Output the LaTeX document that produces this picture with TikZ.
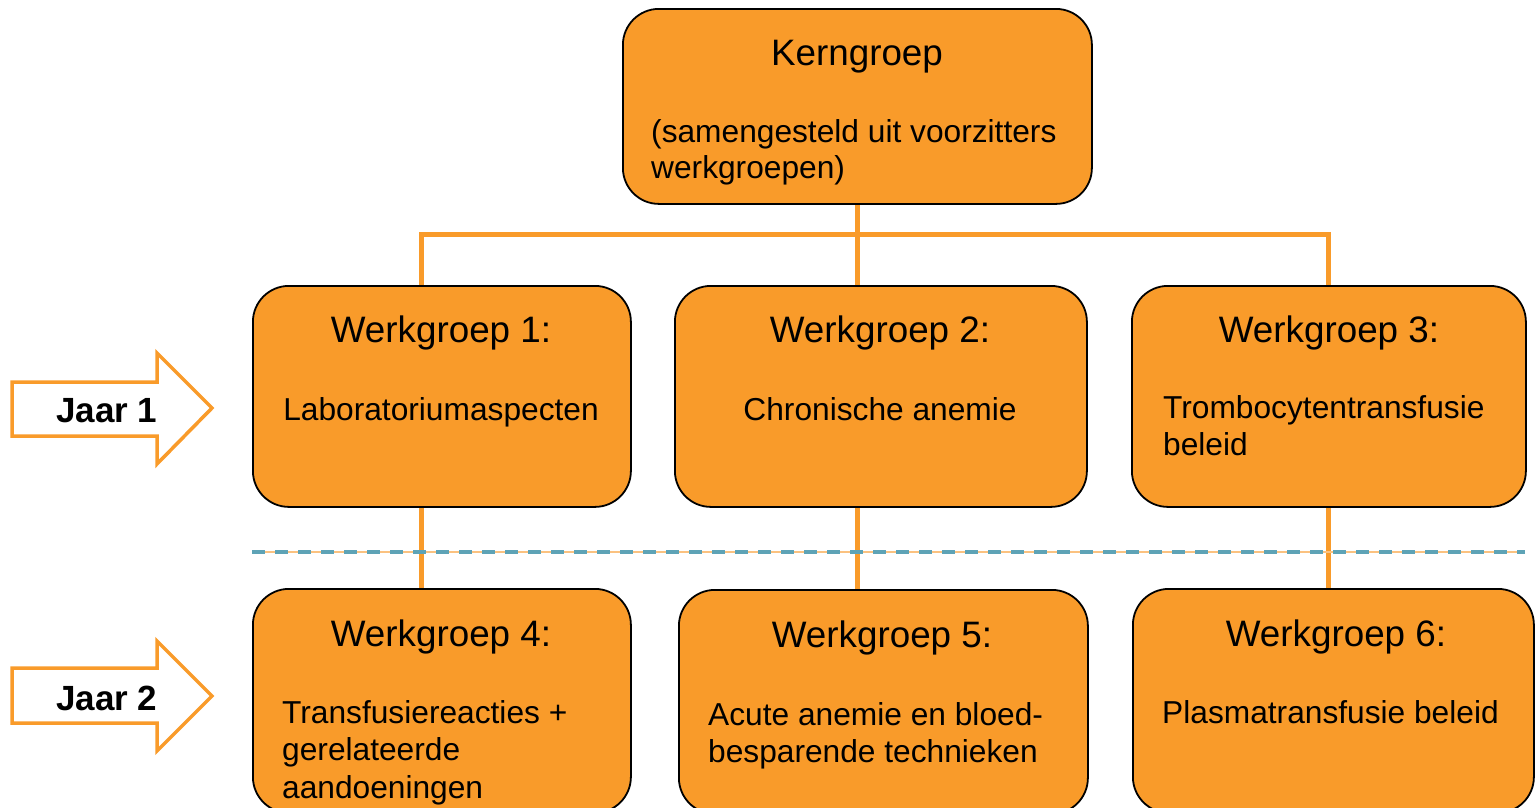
\documentclass[tikz,border=0pt]{standalone}
\usepackage{fontspec}
\setmainfont{Liberation Sans}
\pgfdeclarelayer{background}
\pgfsetlayers{background,main}
\definecolor{orfill}{HTML}{F99B2A}
\definecolor{orline}{HTML}{F99B2A}
\definecolor{orlight}{HTML}{FBC280}
\definecolor{tealdash}{HTML}{5EA3B6}
\tikzset{
  box/.style={draw=black, line width=1.8pt, fill=orfill, rounded corners=36pt,
    inner sep=0pt, anchor=north west},
  conn/.style={draw=orline, line width=5pt},
  hd/.style={font=\fontsize{36.8}{44}\selectfont, inner sep=0pt, anchor=base},
  bdc/.style={font=\fontsize{31.7}{37}\selectfont, inner sep=0pt, anchor=base},
  bdl/.style={font=\fontsize{31.7}{37}\selectfont, inner sep=0pt, anchor=base west},
  jaar/.style={font=\bfseries\fontsize{35}{40}\selectfont, inner sep=0pt, anchor=base west},
  blockarrow/.style={draw=orline, line width=3.5pt, fill=white, line join=miter},
}
\begin{document}
\begin{tikzpicture}[x=1pt,y=-1pt]
\useasboundingbox (0,0) rectangle (1535,807);
\clip (0,0) rectangle (1535,807);

% boxes
\node[box, minimum width=469pt, minimum height=195pt] (k) at (622,8) {};
\node[box, minimum width=378pt, minimum height=221pt] (w1) at (252,285) {};
\node[box, minimum width=412pt, minimum height=221pt] (w2) at (674,285) {};
\node[box, minimum width=394pt, minimum height=221pt] (w3) at (1131,285) {};
\node[box, minimum width=378pt, minimum height=224pt] (w4) at (252,588) {};
\node[box, minimum width=409pt, minimum height=224pt] (w5) at (678,589) {};
\node[box, minimum width=401pt, minimum height=224pt] (w6) at (1132,588) {};

% connectors
\coordinate (c1) at (421,234);
\coordinate (c3) at (1328,234);
\begin{pgfonlayer}{background}
\draw[conn] (k.south) -- (k.south |- w2.north);
\draw[conn] (c1 |- w1.north) -- (c1) -- (c3) -- (c3 |- w3.north);
\draw[conn] (c1 |- w1.south) -- (c1 |- w4.north);
\draw[conn] (k.south |- w2.south) -- (k.south |- w5.north);
\draw[conn] (c3 |- w3.south) -- (c3 |- w6.north);
\end{pgfonlayer}

% dashed separator
\coordinate (dl) at (252,552);
\coordinate (dr) at (1525,552);
\draw[orlight, line width=2pt] (dl) -- (dr);
\draw[tealdash, line width=4pt, dash pattern=on 13pt off 10pt] (dl) -- (dr);

% texts
\node[hd] (kt1) at (857,65) {Kerngroep};
\node[bdl] (kt2) at (651,142) {(samengesteld uit voorzitters};
\node[bdl] (kt3) at (651,178) {werkgroepen)};

\node[hd] (w1h) at (441,342) {Werkgroep 1:};
\node[bdc] (w1b) at (441,420) {Laboratoriumaspecten};

\node[hd] (w2h) at (880,342) {Werkgroep 2:};
\node[bdc] (w2b) at (880,420) {Chronische anemie};

\node[hd] (w3h) at (1329,342) {Werkgroep 3:};
\node[bdl] (w3b1) at (1163,418) {Trombocytentransfusie};
\node[bdl] (w3b2) at (1163,455) {beleid};

\node[hd] (w4h) at (441,646) {Werkgroep 4:};
\node[bdl] (w4b1) at (282,723) {Transfusiereacties +};
\node[bdl] (w4b2) at (282,760) {gerelateerde};
\node[bdl] (w4b3) at (282,798) {aandoeningen};

\node[hd] (w5h) at (882,647) {Werkgroep 5:};
\node[bdl] (w5b1) at (708,725) {Acute anemie en bloed-};
\node[bdl] (w5b2) at (708,762) {besparende technieken};

\node[hd] (w6h) at (1336,646) {Werkgroep 6:};
\node[bdl] (w6b) at (1162,723) {Plasmatransfusie beleid};

% year arrows
\draw[blockarrow] (12,382) -- (157,382) -- (157,353) -- (212,408) -- (157,464) -- (157,436) -- (12,436) -- cycle;
\node[jaar] (j1) at (56,422) {Jaar 1};
\draw[blockarrow] (12,668) -- (157,668) -- (157,641) -- (212,696) -- (157,751) -- (157,723) -- (12,723) -- cycle;
\node[jaar] (j2) at (56,710) {Jaar 2};
\end{tikzpicture}
\end{document}
